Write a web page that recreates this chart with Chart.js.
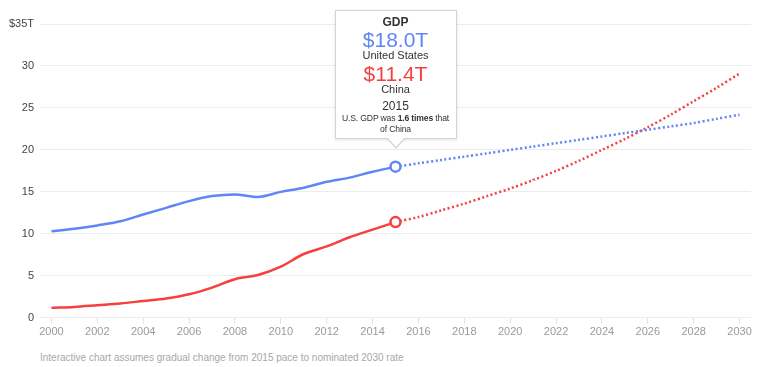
<!DOCTYPE html>
<html>
<head>
<meta charset="utf-8">
<script src="https://cdn.jsdelivr.net/npm/chart.js@4.4.1/dist/chart.umd.min.js"></script>
<style>
  html, body { margin: 0; padding: 0; background: #fff; }
  body { width: 768px; height: 367px; position: relative; overflow: hidden; font-family: 'Liberation Sans', Arial, sans-serif; }
  #wrap { position: absolute; left: 0; top: 0; width: 768px; height: 341px; }
  #note { position: absolute; left: 40px; top: 352px; font-size: 10px; color: #a8a8a8; }
  #tip { position: absolute; width: 120px; background: #fff; border: 1px solid #d4d4d4; box-shadow: 0 1px 3px rgba(0,0,0,0.12); text-align: center; color: #333; padding: 4px 0 3px; display: none; }
  #tip:before { content: ''; position: absolute; left: 50px; bottom: -11px; width: 0; height: 0; border-left: 10px solid transparent; border-right: 10px solid transparent; border-top: 11px solid #d4d4d4; }
  #tip:after { content: ''; position: absolute; left: 51px; bottom: -9px; width: 0; height: 0; border-left: 9px solid transparent; border-right: 9px solid transparent; border-top: 10px solid #fff; }
  #tip .t { font-weight: bold; font-size: 12px; line-height: 14px; }
  #tip .v { font-size: 21px; line-height: 20px; margin-top: 1px; }
  #tip .v2 { margin-top: 3px; }
  #tip .n { font-size: 11px; line-height: 11px; }
  #tip .y { font-size: 12px; line-height: 14px; margin-top: 4px; }
  #tip .s { font-size: 8.6px; line-height: 11px; white-space: nowrap; letter-spacing: -0.15px; }
</style>
</head>
<body>
<div id="wrap"><canvas id="gdpChart"></canvas></div>
<div id="tip">
  <div class="t">GDP</div>
  <div class="v" style="color:#6185f6">$18.0T</div>
  <div class="n">United States</div>
  <div class="v v2" style="color:#f5403f">$11.4T</div>
  <div class="n">China</div>
  <div class="y">2015</div>
  <div class="s">U.S. GDP was <b>1.6 times</b> that</div>
  <div class="s">of China</div>
</div>
<div id="note">Interactive chart assumes gradual change from 2015 pace to nominated 2030 rate</div>
<script>
const histYears = [2000, 2001, 2002, 2003, 2004, 2005, 2006, 2007, 2008, 2009, 2010, 2011, 2012, 2013, 2014, 2015];
const usHist = [10.3, 10.6, 11.0, 11.5, 12.3, 13.1, 13.9, 14.5, 14.7, 14.4, 15.0, 15.5, 16.2, 16.7, 17.4, 18.0];
const chinaHist = [1.2, 1.3, 1.5, 1.7, 2.0, 2.3, 2.8, 3.6, 4.6, 5.1, 6.1, 7.6, 8.5, 9.6, 10.5, 11.4];

const projYears = [2015, 2016, 2017, 2018, 2019, 2020, 2021, 2022, 2023, 2024, 2025, 2026, 2027, 2028, 2029, 2030];
const usProj = [18.0, 18.4, 18.8, 19.2, 19.6, 20.0, 20.4, 20.8, 21.2, 21.6, 22.0, 22.4, 22.8, 23.2, 23.7, 24.2];
const chinaProj = [11.4, 12.0, 12.8, 13.6, 14.5, 15.4, 16.4, 17.5, 18.7, 20.0, 21.3, 22.7, 24.2, 25.8, 27.4, 29.1];

const xTicks = [2000, 2002, 2004, 2006, 2008, 2010, 2012, 2014, 2016, 2018, 2020, 2022, 2024, 2026, 2028, 2030];
const yTicks = [0, 5, 10, 15, 20, 25, 30, 35];
const yTickLabels = ['0', '5', '10', '15', '20', '25', '30', '$35T'];

const blue = '#6185f6';
const red = '#f5403f';

function toPoints(xs, ys) {
    return xs.map((x, i) => ({ x: x, y: ys[i] }));
}

// circle only on the 2015 value of the solid lines
let lastPoint = (ctx) => ctx.dataIndex === histYears.length - 1 ? 5 : 0;

let placeTip = {
    id: 'placeTip',
    afterDraw(chart) {
        let tip = document.getElementById('tip');
        let px = chart.scales.x.getPixelForValue(2015);
        let py = chart.scales.y.getPixelForValue(usHist[usHist.length - 1]);
        tip.style.display = 'block';
        tip.style.left = (px - 61) + 'px';
        tip.style.top = (py - 28 - tip.offsetHeight) + 'px';
    }
};

let ctx = document.getElementById('gdpChart');
new Chart(ctx, {
    type: 'line',
    data: {
        datasets: [{
            data: toPoints(histYears, usHist),
            borderColor: blue,
            borderWidth: 2.5,
            tension: 0.4,
            cubicInterpolationMode: 'monotone',
            pointRadius: lastPoint,
            pointBorderWidth: 2.5,
            pointBorderColor: blue,
            pointBackgroundColor: '#fff',
            order: 1
        }, {
            data: toPoints(histYears, chinaHist),
            borderColor: red,
            borderWidth: 2.5,
            tension: 0.4,
            cubicInterpolationMode: 'monotone',
            pointRadius: lastPoint,
            pointBorderWidth: 2.5,
            pointBorderColor: red,
            pointBackgroundColor: '#fff',
            order: 1
        }, {
            data: toPoints(projYears, usProj),
            borderColor: blue,
            borderWidth: 2.5,
            borderDash: [2, 2.5],
            tension: 0.3,
            pointRadius: 0,
            order: 2
        }, {
            data: toPoints(projYears, chinaProj),
            borderColor: red,
            borderWidth: 2.5,
            borderDash: [2, 2.5],
            tension: 0.3,
            pointRadius: 0,
            order: 2
        }]
    },
    options: {
        responsive: true,
        maintainAspectRatio: false,
        animation: false,
        events: [],
        layout: {
            padding: { top: 24, right: 17, left: 0, bottom: 0 }
        },
        scales: {
            x: {
                type: 'linear',
                min: 1999.5,
                max: 2030.5,
                afterBuildTicks: (scale) => {
                    scale.ticks = xTicks.map(v => ({ value: v }));
                },
                grid: {
                    drawOnChartArea: false,
                    color: '#e2e2e2',
                    tickLength: 6
                },
                border: {
                    display: false
                },
                ticks: {
                    color: '#9a9a9a',
                    font: { size: 11, family: "'Liberation Sans', Arial, sans-serif" },
                    padding: 2,
                    maxRotation: 0,
                    autoSkip: false,
                    callback: (v) => String(v)
                }
            },
            y: {
                min: 0,
                max: 35,
                afterBuildTicks: (scale) => {
                    scale.ticks = yTicks.map(v => ({ value: v }));
                },
                afterFit: (scale) => {
                    scale.width = 40;
                },
                grid: {
                    color: '#ececec',
                    drawTicks: false
                },
                border: {
                    display: false
                },
                ticks: {
                    color: '#444',
                    padding: 6,
                    font: { size: 11, family: "'Liberation Sans', Arial, sans-serif" },
                    callback: (v) => yTickLabels[yTicks.indexOf(v)]
                }
            }
        },
        plugins: {
            legend: { display: false },
            tooltip: { enabled: false }
        }
    },
    plugins: [placeTip]
});
</script>
</body>
</html>
